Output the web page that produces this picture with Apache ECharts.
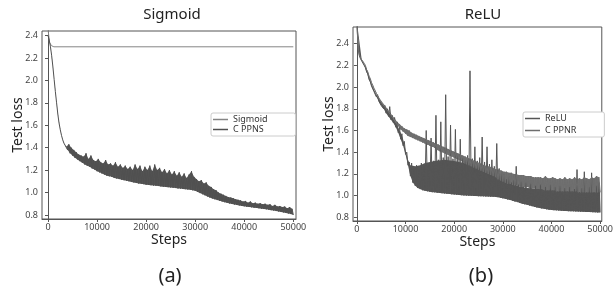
<!DOCTYPE html>
<html><head><meta charset="utf-8">
<script src="https://cdn.jsdelivr.net/npm/echarts@6/dist/echarts.min.js"></script>
<style>html,body{margin:0;padding:0;background:#fff}#c{width:616px;height:293px}</style>
</head><body><div id="c"></div>
<script>
// ---------- data ----------
const xTicks = [0, 10000, 20000, 30000, 40000, 50000];
const yTicks = [0.8, 1.0, 1.2, 1.4, 1.6, 1.8, 2.0, 2.2, 2.4];
const titles = ['Sigmoid', 'ReLU'];
const panelLabels = ['(a)', '(b)'];

// Sigmoid (flat) curve
const sigmoidSteps = [0, 300, 700, 1200, 50000];
const sigmoidLoss = [2.46, 2.34, 2.31, 2.30, 2.30];

// C PPNS: troughs at steps 0,500,...,50000 ; peaks at 250,750,...,49750
const ppnsLows = [2.40,2.30,2.12,1.90,1.70,1.56,1.47,1.42,1.38,1.35,
  1.33,1.31,1.295,1.28,1.265,1.25,1.24,1.23,1.215,1.205,
  1.19,1.18,1.17,1.16,1.15,1.145,1.14,1.13,1.125,1.12,
  1.115,1.11,1.105,1.10,1.095,1.09,1.085,1.08,1.078,1.075,
  1.07,1.068,1.065,1.062,1.06,1.058,1.055,1.052,1.05,1.048,
  1.045,1.042,1.04,1.037,1.035,1.032,1.03,1.027,1.025,1.02,
  1.015,1.005,0.995,0.985,0.975,0.965,0.955,0.947,0.94,0.933,
  0.926,0.92,0.914,0.908,0.903,0.898,0.893,0.889,0.885,0.881,
  0.877,0.874,0.871,0.868,0.865,0.862,0.859,0.856,0.853,0.85,
  0.847,0.843,0.839,0.835,0.831,0.827,0.823,0.818,0.813,0.808,0.80];
const ppnsHighs = [2.36,2.22,2.01,1.80,1.62,1.51,1.44,1.41,1.43,1.40,
  1.38,1.36,1.34,1.33,1.32,1.35,1.30,1.33,1.29,1.28,
  1.30,1.27,1.26,1.29,1.25,1.26,1.24,1.27,1.23,1.25,
  1.22,1.24,1.21,1.23,1.20,1.25,1.21,1.24,1.19,1.23,
  1.20,1.24,1.19,1.25,1.20,1.22,1.18,1.21,1.17,1.20,
  1.16,1.19,1.15,1.18,1.14,1.17,1.13,1.16,1.19,1.14,
  1.12,1.10,1.11,1.08,1.09,1.06,1.05,1.03,1.02,1.00,
  0.99,0.98,0.97,0.96,0.955,0.95,0.94,0.935,0.93,0.92,
  0.925,0.91,0.92,0.905,0.91,0.90,0.905,0.895,0.90,0.89,
  0.895,0.88,0.89,0.875,0.88,0.87,0.875,0.86,0.87,0.855];

// ReLU (noisy, lower) troughs / peaks
const reluLows = [2.60,2.29,2.24,2.20,2.14,2.07,2.01,1.96,1.91,1.87,
  1.83,1.80,1.76,1.73,1.70,1.67,1.63,1.58,1.52,1.46,
  1.38,1.28,1.18,1.12,1.09,1.07,1.06,1.05,1.045,1.04,
  1.035,1.032,1.03,1.027,1.025,1.022,1.02,1.017,1.015,1.012,
  1.01,1.008,1.006,1.004,1.002,1.00,0.999,0.998,0.997,0.996,
  0.995,0.994,0.993,0.992,0.991,0.99,0.989,0.988,0.986,0.98,
  0.975,0.97,0.965,0.96,0.953,0.946,0.94,0.933,0.926,0.92,
  0.915,0.909,0.903,0.897,0.891,0.886,0.882,0.878,0.874,0.87,
  0.868,0.866,0.864,0.862,0.86,0.859,0.858,0.857,0.856,0.855,
  0.854,0.853,0.852,0.851,0.85,0.849,0.848,0.847,0.846,0.845,0.845];
const reluHighs = [2.35,2.26,2.23,2.18,2.12,2.05,2.00,1.95,1.93,1.88,
  1.84,1.83,1.80,1.82,1.74,1.72,1.68,1.63,1.57,1.50,
  1.40,1.31,1.30,1.25,1.28,1.24,1.30,1.27,1.60,1.30,
  1.53,1.32,1.74,1.33,1.68,1.35,1.93,1.36,1.65,1.34,
  1.61,1.38,1.52,1.35,1.33,1.37,2.15,1.34,1.45,1.32,
  1.35,1.54,1.31,1.45,1.29,1.33,1.27,1.48,1.25,1.22,
  1.20,1.15,1.18,1.12,1.14,1.27,1.10,1.13,1.08,1.12,
  1.06,1.11,1.05,1.09,1.04,1.10,1.03,1.08,1.04,1.10,
  1.02,1.08,1.03,1.09,1.02,1.07,1.01,1.08,1.02,1.06,
  1.24,1.03,1.07,1.22,1.02,1.08,1.21,1.03,1.09,1.12];
// upper edge of the dense part of the ReLU noise
const reluDenseSteps = [0,1000,2000,3000,4000,5000,6000,7000,8000,9000,9500,10000,10500,11000,12000,13000,14000,16000,18000,20000,22000,24000,26000,28000,30000,32000,35000,40000,45000,50000];
const reluDenseTop = [2.60,2.25,2.17,2.03,1.93,1.86,1.80,1.74,1.67,1.58,1.52,1.42,1.33,1.28,1.27,1.28,1.30,1.32,1.33,1.32,1.30,1.27,1.24,1.20,1.14,1.10,1.07,1.06,1.05,1.05];

// C PPNR (smoother, upper) troughs / peaks
const ppnrLows = [2.60,2.30,2.25,2.22,2.16,2.10,2.04,1.99,1.94,1.90,
  1.86,1.83,1.80,1.77,1.74,1.71,1.68,1.64,1.61,1.59,
  1.57,1.55,1.54,1.53,1.52,1.51,1.50,1.49,1.48,1.47,
  1.46,1.45,1.44,1.42,1.41,1.40,1.39,1.38,1.37,1.36,
  1.35,1.34,1.33,1.32,1.30,1.29,1.28,1.27,1.26,1.25,
  1.24,1.23,1.22,1.21,1.20,1.19,1.18,1.17,1.15,1.14,
  1.13,1.12,1.11,1.11,1.10,1.10,1.09,1.09,1.08,1.08,
  1.08,1.07,1.07,1.07,1.06,1.06,1.06,1.05,1.05,1.05,
  1.05,1.05,1.04,1.04,1.04,1.04,1.04,1.04,1.04,1.04,
  1.04,1.03,1.03,1.03,1.03,1.03,1.03,1.03,1.03,1.03,1.03];
const ppnrHighs = [2.36,2.27,2.24,2.20,2.14,2.08,2.02,1.97,1.93,1.89,
  1.86,1.83,1.80,1.77,1.74,1.71,1.68,1.66,1.64,1.62,
  1.61,1.60,1.58,1.57,1.56,1.55,1.54,1.53,1.52,1.51,
  1.50,1.49,1.48,1.47,1.46,1.45,1.44,1.43,1.42,1.41,
  1.40,1.39,1.38,1.37,1.36,1.35,1.34,1.33,1.32,1.31,
  1.30,1.29,1.28,1.27,1.27,1.26,1.25,1.24,1.24,1.23,
  1.22,1.22,1.21,1.21,1.20,1.20,1.19,1.19,1.19,1.18,
  1.18,1.18,1.17,1.17,1.17,1.17,1.16,1.18,1.16,1.16,
  1.17,1.16,1.15,1.16,1.15,1.17,1.15,1.16,1.15,1.17,
  1.15,1.16,1.15,1.17,1.16,1.15,1.17,1.16,1.18,1.17];

// ---------- build ----------
const troughSteps = ppnsLows.map((_, i) => i * 500);
const peakSteps = ppnsHighs.map((_, i) => i * 500 + 250);
function zig(lows, highs) {
  const out = [];
  for (let i = 0; i < lows.length; i++) {
    out.push([troughSteps[i], lows[i]]);
    if (i < highs.length) out.push([peakSteps[i], highs[i]]);
  }
  return out;
}
const FONT = 'Noto Sans';
const tickLabel = { fontSize: 9, color: '#444', fontFamily: FONT };
function xAx(gi, min, max) {
  return { type: 'value', gridIndex: gi, min: min, max: max,
    name: 'Steps', nameLocation: 'middle', nameGap: 14, nameMoveOverlap: false,
    nameTextStyle: { fontSize: 14, color: '#222', fontFamily: FONT },
    axisLine: { show: true, lineStyle: { color: '#555' } },
    axisTick: { show: true, length: 3, customValues: xTicks, lineStyle: { color: '#555' } },
    axisLabel: Object.assign({ customValues: xTicks, margin: 4, formatter: v => String(v) }, tickLabel),
    splitLine: { show: false } };
}
function yAx(gi, min, max, gap) {
  return { type: 'value', gridIndex: gi, min: min, max: max,
    name: 'Test loss', nameLocation: 'middle', nameGap: gap, nameMoveOverlap: false,
    nameTextStyle: { fontSize: 14, color: '#222', fontFamily: FONT },
    axisLine: { show: true, lineStyle: { color: '#555' } },
    axisTick: { show: true, length: 3, customValues: yTicks, lineStyle: { color: '#555' } },
    axisLabel: Object.assign({ customValues: yTicks, margin: 4, formatter: v => v.toFixed(1) }, tickLabel),
    splitLine: { show: false } };
}
function line(name, gi, data, color) {
  return { name: name, type: 'line', xAxisIndex: gi, yAxisIndex: gi, data: data,
    showSymbol: false, symbol: 'none', sampling: null, clip: true,
    lineStyle: { color: color, width: 1 }, itemStyle: { color: color } };
}
// filled band between a lower edge (troughs) and an upper edge
function band(gi, lowX, lows, topX, tops, color) {
  return { type: 'custom', xAxisIndex: gi, yAxisIndex: gi, data: [[0, 1]], clip: true, silent: true,
    renderItem: function (params, api) {
      const pts = [api.coord([lowX[0], lows[0]])];
      for (let i = 0; i < tops.length; i++) pts.push(api.coord([topX[i], tops[i]]));
      for (let i = lows.length - 1; i >= 0; i--) pts.push(api.coord([lowX[i], lows[i]]));
      return { type: 'polygon', shape: { points: pts }, style: { fill: color } };
    } };
}
function legend(names, left, top, gap, padRight) {
  return { data: names, orient: 'vertical', left: left, top: top, itemGap: gap,
    itemWidth: 15, itemHeight: 1.5, icon: 'rect', padding: [2, padRight, 2, 2],
    borderColor: '#ccc', borderWidth: 1, borderRadius: 2, backgroundColor: '#fff',
    textStyle: { fontSize: 9, color: '#333', fontFamily: FONT, lineHeight: 9 } };
}
const chart = echarts.init(document.getElementById('c'), null, { renderer: 'canvas' });
chart.setOption({
  animation: false,
  backgroundColor: '#fff',
  grid: [
    { left: 42, top: 31, width: 254, height: 188, show: true, borderColor: '#555', borderWidth: 1, backgroundColor: 'transparent' },
    { left: 353, top: 27, width: 256, height: 194, show: true, borderColor: '#555', borderWidth: 1, backgroundColor: 'transparent' }
  ],
  xAxis: [xAx(0, -1224, 50550), xAx(1, -800, 50340)],
  yAxis: [yAx(0, 0.764, 2.441, 17), yAx(1, 0.766, 2.554, 17)],
  legend: [legend(['Sigmoid', 'C PPNS'], 211, 113, 1, 28), legend(['ReLU', 'C PPNR'], 523, 112, 3, 28)],
  series: [
    line('Sigmoid', 0, sigmoidSteps.map((s, i) => [s, sigmoidLoss[i]]), '#858585'),
    band(0, troughSteps, ppnsLows, peakSteps, ppnsHighs, '#555555'),
    line('C PPNS', 0, zig(ppnsLows, ppnsHighs), '#505050'),
    band(1, troughSteps, reluLows, reluDenseSteps, reluDenseTop, '#565656'),
    line('ReLU', 1, zig(reluLows, reluHighs), '#555555'),
    band(1, troughSteps, ppnrLows, peakSteps, ppnrHighs, '#727272'),
    line('C PPNR', 1, zig(ppnrLows, ppnrHighs), '#6e6e6e')
  ],
  graphic: [
    { type: 'text', x: 172, y: 15, style: { text: titles[0], font: '15px "Noto Sans"', fill: '#222', textAlign: 'center', textVerticalAlign: 'middle' } },
    { type: 'text', x: 483, y: 15, style: { text: titles[1], font: '15px "Noto Sans"', fill: '#222', textAlign: 'center', textVerticalAlign: 'middle' } },
    { type: 'text', x: 170, y: 276, style: { text: panelLabels[0], font: '20px "Noto Sans"', fill: '#222', textAlign: 'center', textVerticalAlign: 'middle' } },
    { type: 'text', x: 481, y: 276, style: { text: panelLabels[1], font: '20px "Noto Sans"', fill: '#222', textAlign: 'center', textVerticalAlign: 'middle' } }
  ]
});
</script></body></html>
